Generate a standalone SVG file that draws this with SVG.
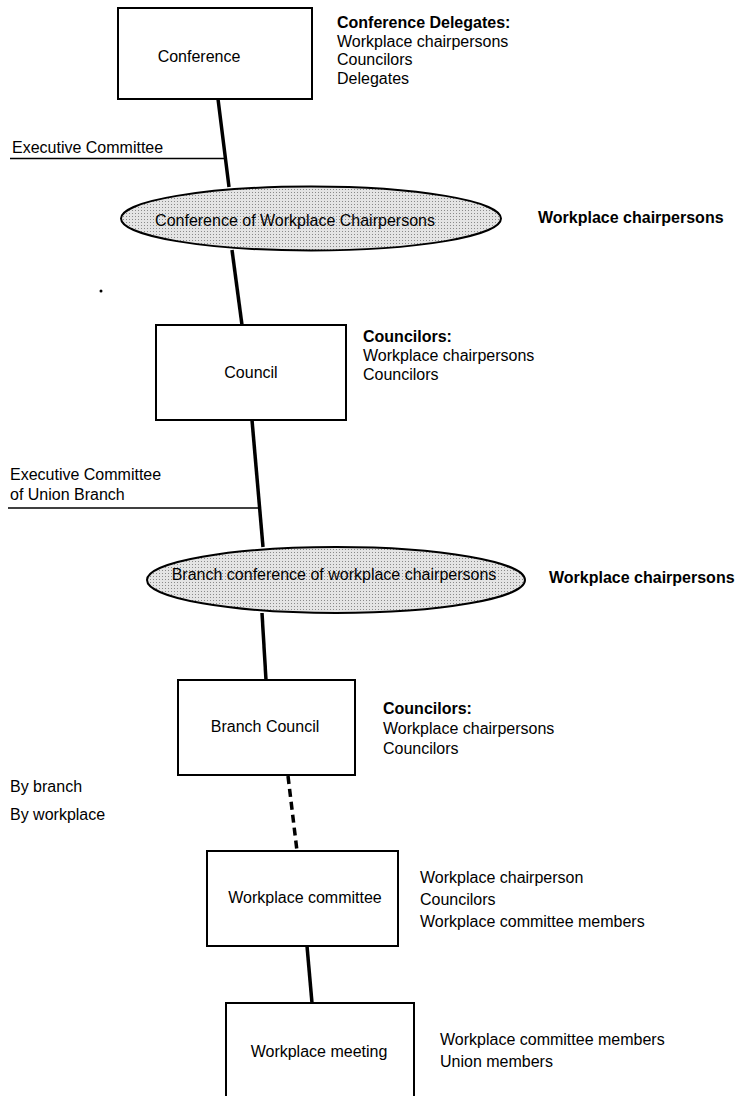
<svg xmlns="http://www.w3.org/2000/svg" width="741" height="1096" viewBox="0 0 741 1096">
<style>
text{font-family:"Liberation Sans",Arial,Helvetica,sans-serif;font-size:16px;fill:#000}
.b{font-weight:bold}
.box{fill:#fff;stroke:#000;stroke-width:2}
.ell{fill:url(#stip);stroke:#000;stroke-width:2}
.con{stroke:#000;stroke-width:3.5;fill:none;stroke-linecap:butt}
.dash{stroke-dasharray:8 5}
.ul{stroke:#000;stroke-width:1.5}
</style>
<defs>
<pattern id="stip" width="3" height="3" patternUnits="userSpaceOnUse">
<rect width="3" height="3" fill="#e4e4e4"/>
<rect x="0" y="0" width="1" height="1" fill="#8a8a8a"/>
</pattern>
</defs>
<rect width="741" height="1096" fill="#fff"/>
<g id="connectors">
<line class="con" x1="218" y1="99" x2="229" y2="187"/>
<line class="con" x1="232" y1="250" x2="242" y2="325"/>
<line class="con" x1="252" y1="420" x2="263" y2="547"/>
<line class="con" x1="262" y1="613" x2="266" y2="680"/>
<line class="con dash" x1="288" y1="776" x2="297" y2="851"/>
<line class="con" x1="307" y1="946" x2="312" y2="1003"/>
</g>
<g id="exec-committee">
<text x="12" y="153">Executive Committee</text>
<line class="ul" x1="10" y1="158.5" x2="224" y2="158.5"/>
</g>
<g id="exec-committee-branch">
<text x="10" y="480">Executive Committee</text>
<text x="10" y="500">of Union Branch</text>
<line class="ul" x1="8" y1="508" x2="260" y2="508"/>
</g>
<g id="conference">
<rect class="box" x="118" y="8" width="194" height="91"/>
<text x="199" y="62" text-anchor="middle">Conference</text>
<text x="337" y="28" class="b">Conference Delegates:</text>
<text x="337" y="46.5">Workplace chairpersons</text>
<text x="337" y="65">Councilors</text>
<text x="337" y="83.5">Delegates</text>
</g>
<g id="conf-chairpersons">
<ellipse class="ell" cx="311" cy="218.5" rx="190" ry="32"/>
<text x="295" y="226" text-anchor="middle">Conference of Workplace Chairpersons</text>
<text x="538" y="223" class="b">Workplace chairpersons</text>
</g>
<circle cx="101" cy="291" r="1.5" fill="#000"/>
<g id="council">
<rect class="box" x="156" y="325" width="190" height="95"/>
<text x="251" y="378" text-anchor="middle">Council</text>
<text x="363" y="342" class="b">Councilors:</text>
<text x="363" y="361">Workplace chairpersons</text>
<text x="363" y="380">Councilors</text>
</g>
<g id="branch-conf">
<ellipse class="ell" cx="336" cy="580" rx="189" ry="33"/>
<text x="334" y="580" text-anchor="middle">Branch conference of workplace chairpersons</text>
<text x="549" y="583" class="b">Workplace chairpersons</text>
</g>
<g id="branch-council">
<rect class="box" x="178" y="680" width="177" height="95"/>
<text x="265" y="732" text-anchor="middle">Branch Council</text>
<text x="383" y="714" class="b">Councilors:</text>
<text x="383" y="734">Workplace chairpersons</text>
<text x="383" y="754">Councilors</text>
</g>
<g id="side-labels">
<text x="10" y="792">By branch</text>
<text x="10" y="820">By workplace</text>
</g>
<g id="workplace-committee">
<rect class="box" x="207" y="851" width="191" height="95"/>
<text x="305" y="903" text-anchor="middle">Workplace committee</text>
<text x="420" y="883">Workplace chairperson</text>
<text x="420" y="905">Councilors</text>
<text x="420" y="927">Workplace committee members</text>
</g>
<g id="workplace-meeting">
<rect class="box" x="226" y="1003" width="188" height="100"/>
<text x="319" y="1057" text-anchor="middle">Workplace meeting</text>
<text x="440" y="1045">Workplace committee members</text>
<text x="440" y="1067">Union members</text>
</g>
</svg>
